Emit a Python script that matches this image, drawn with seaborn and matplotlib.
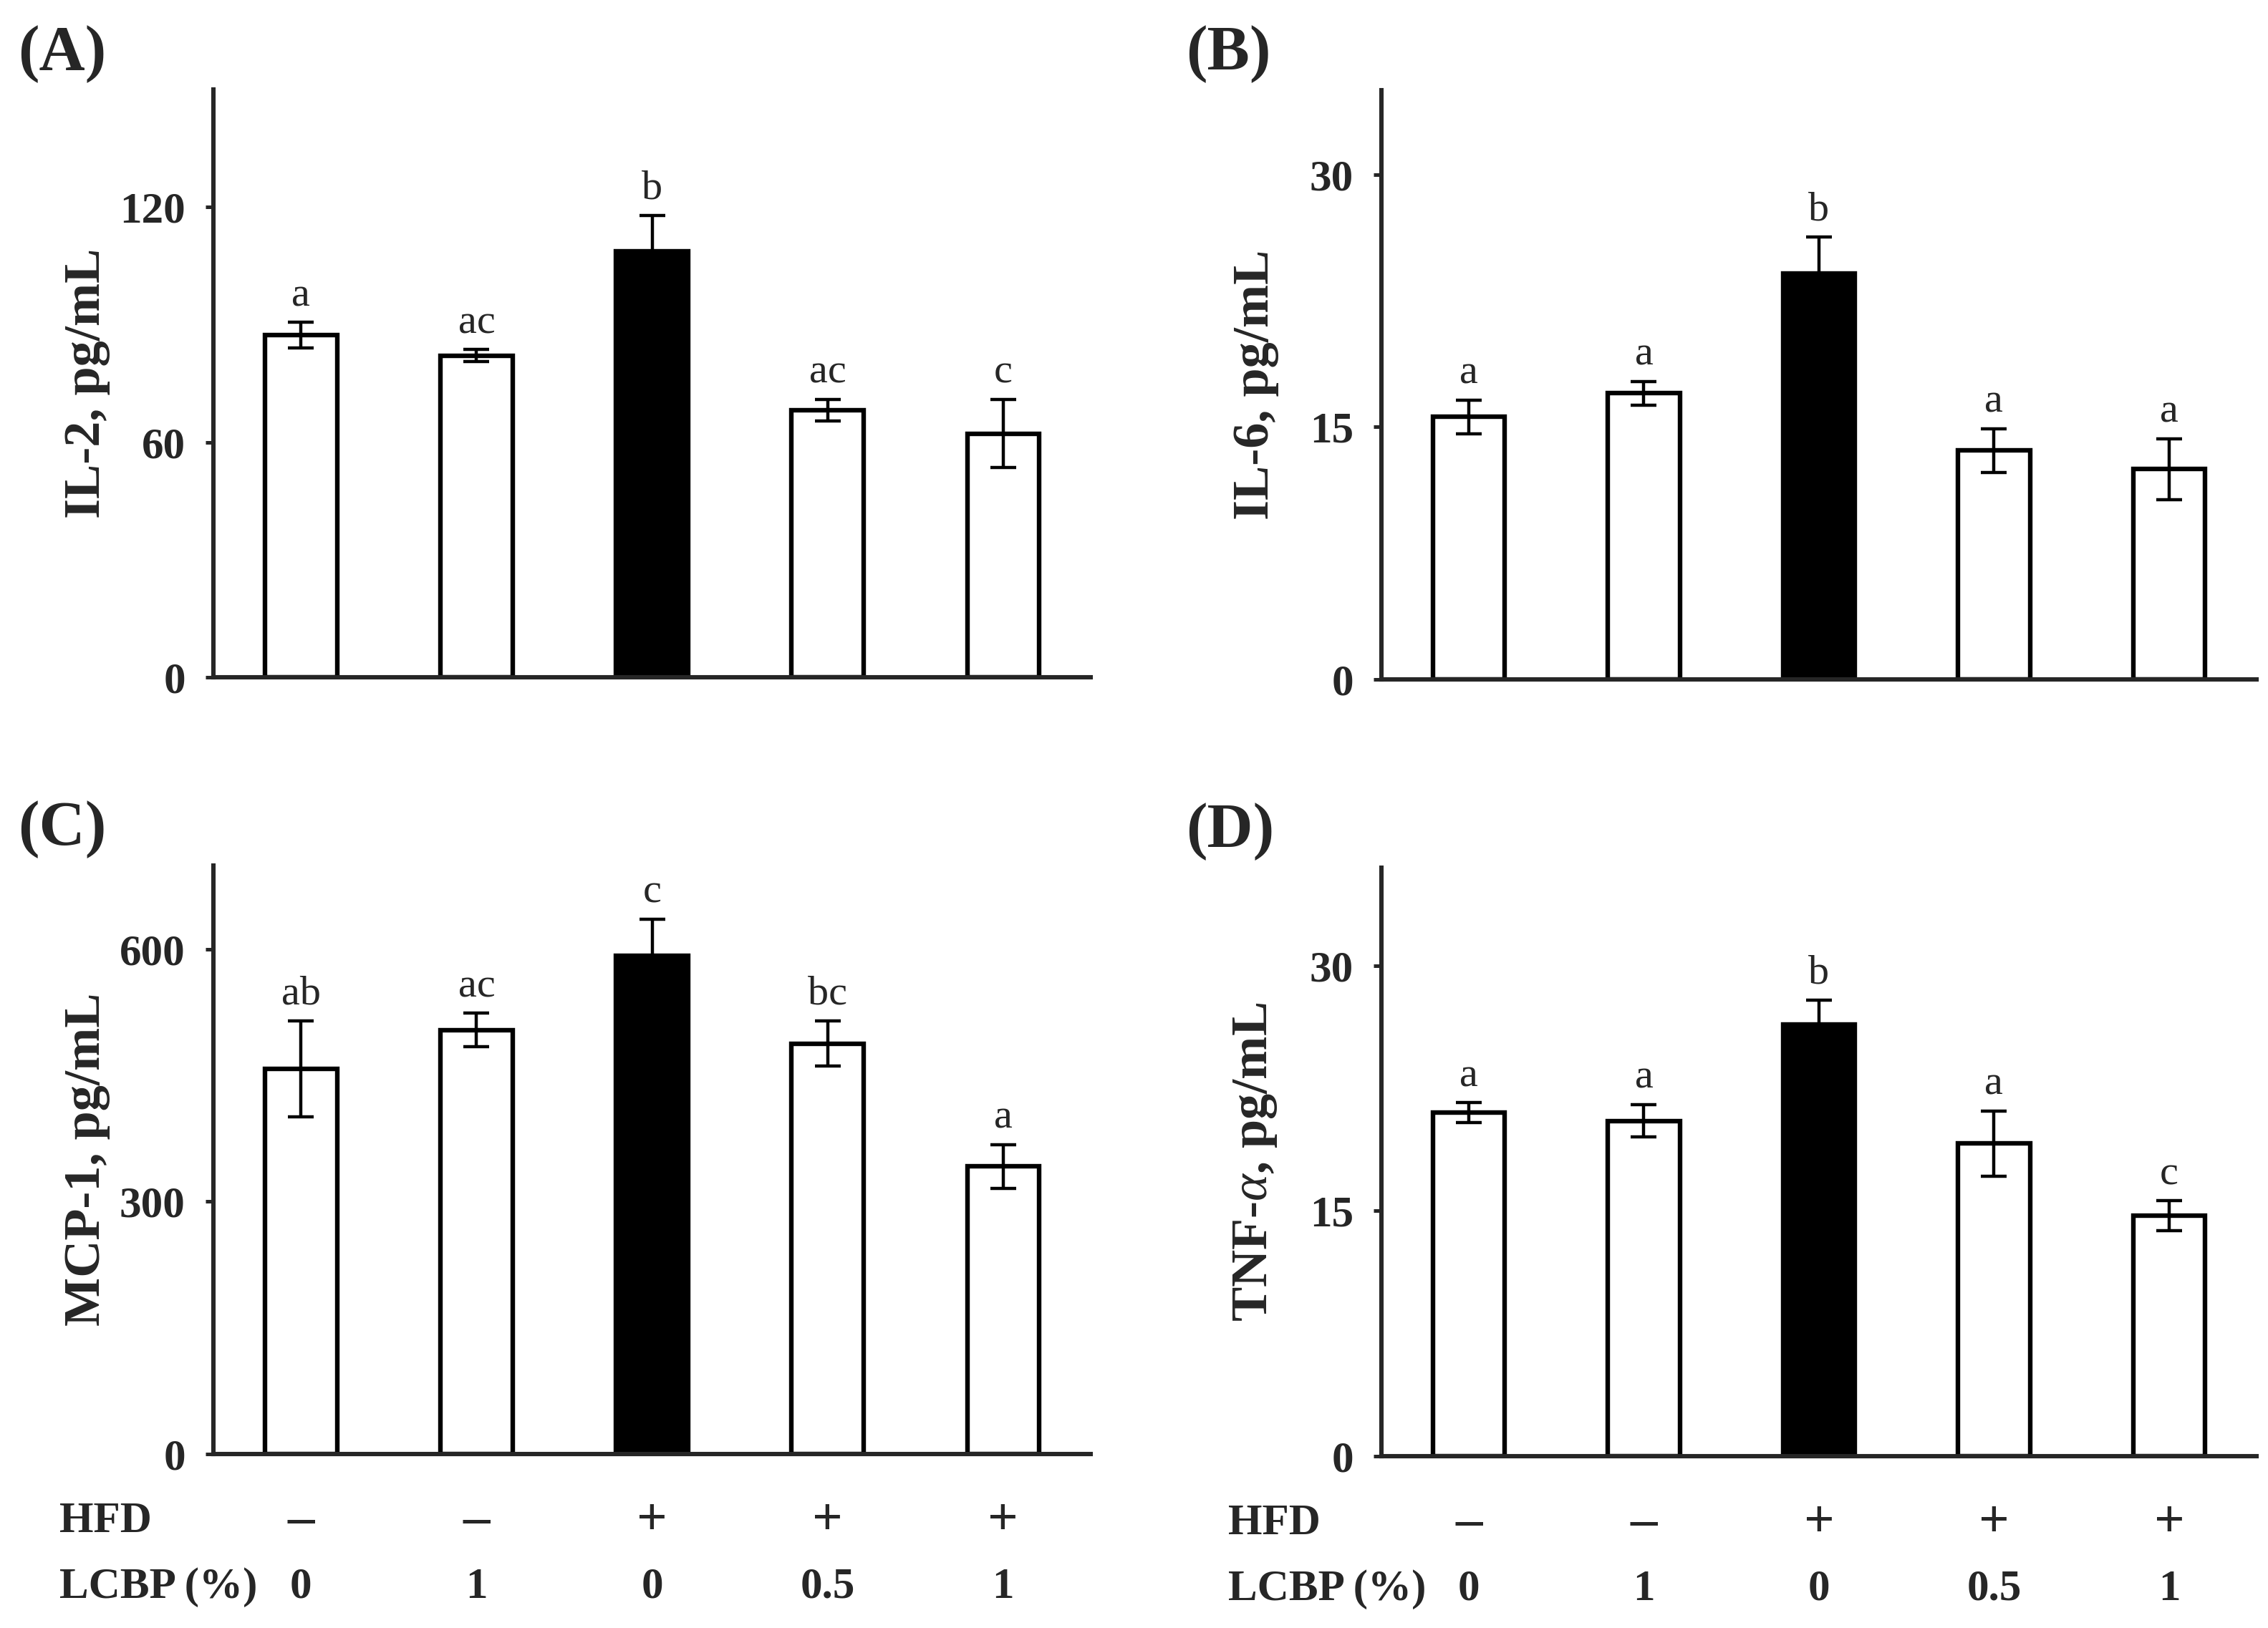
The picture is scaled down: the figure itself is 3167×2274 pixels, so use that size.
import numpy as np
import matplotlib
matplotlib.use("Agg")
import matplotlib.pyplot as plt
import seaborn as sns

sns.set_style("ticks")
plt.rcParams["font.family"] = ["Liberation Serif", "DejaVu Serif"]
plt.rcParams["mathtext.fontset"] = "custom"
plt.rcParams["mathtext.it"] = "Liberation Serif:italic"
plt.rcParams["mathtext.rm"] = "Liberation Serif:bold"

# groups (HFD / LCBP %)
groups = ["g1", "g2", "g3", "g4", "g5"]
hfd = ["–", "–", "+", "+", "+"]
lcbp = ["0", "1", "0", "0.5", "1"]
bar_colors = ["white", "white", "black", "white", "white"]

# values
il2_mean = [87.3, 82.1, 108.7, 68.2, 62.2]
il2_sd = [3.3, 1.5, 9.2, 2.7, 8.7]
il2_letters = ["a", "ac", "b", "ac", "c"]

il6_mean = [15.6, 17.0, 24.1, 13.6, 12.5]
il6_sd = [1.0, 0.7, 2.2, 1.3, 1.8]
il6_letters = ["a", "a", "b", "a", "a"]

mcp1_mean = [458, 504, 592, 488, 342]
mcp1_sd = [57, 20, 44, 27, 26]
mcp1_letters = ["ab", "ac", "c", "bc", "a"]

tnf_mean = [21.0, 20.5, 26.4, 19.1, 14.7]
tnf_sd = [0.6, 1.0, 1.5, 2.0, 0.9]
tnf_letters = ["a", "a", "b", "a", "c"]

fig = plt.figure(figsize=(15.835, 11.37), dpi=200)

panels = [
    ("(A)", [0.094, 0.584, 0.387, 0.361], il2_mean, il2_sd, il2_letters,
     "IL-2, pg/mL", (0, 150), [0, 60, 120], False),
    ("(B)", [0.609, 0.5826, 0.386, 0.362], il6_mean, il6_sd, il6_letters,
     "IL-6, pg/mL", (0, 35), [0, 15, 30], False),
    ("(C)", [0.094, 0.107, 0.387, 0.3615], mcp1_mean, mcp1_sd, mcp1_letters,
     "MCP-1, pg/mL", (0, 700), [0, 300, 600], True),
    ("(D)", [0.609, 0.1057, 0.386, 0.3615], tnf_mean, tnf_sd, tnf_letters,
     r"TNF-$\mathit{\alpha}$, pg/mL", (0, 36), [0, 15, 30], True),
]

for tag, pos, mean, sd, letters, ylab, ylim, yticks, rows in panels:
    ax = fig.add_axes(pos)
    sns.barplot(x=groups, y=mean, hue=groups, palette=bar_colors, legend=False,
                edgecolor="black", linewidth=2.3, width=0.41, errorbar=None,
                saturation=1, ax=ax)
    x = np.arange(len(groups))
    ax.errorbar(x, mean, yerr=sd, fmt="none", ecolor="black",
                elinewidth=1.6, capsize=6.5, capthick=1.6, zorder=5)
    for xi, m, s, lt in zip(x, mean, sd, letters):
        ax.annotate(lt, (xi, m + s), xytext=(0, 4), textcoords="offset points",
                    ha="center", va="bottom", fontsize=21)

    ax.set_xlim(-0.5, 4.5)
    ax.set_ylim(*ylim)
    ax.set_yticks(yticks)
    ax.set_xticks([])
    ax.set_xlabel("")
    ax.set_ylabel(ylab, fontsize=26, fontweight="bold")
    ax.yaxis.set_label_coords(-0.117, 0.5)
    ax.tick_params(axis="y", direction="out", length=4, width=1.8, pad=10,
                   labelsize=22)
    for lab in ax.get_yticklabels():
        lab.set_fontweight("bold")
    sns.despine(ax=ax)
    ax.spines["left"].set_linewidth(2.2)
    ax.spines["bottom"].set_linewidth(2.2)

    if rows:
        ax.annotate("HFD", (-0.175, 0), xycoords="axes fraction",
                    xytext=(0, -34), textcoords="offset points",
                    ha="left", va="center", fontsize=22, fontweight="bold")
        ax.annotate("LCBP (%)", (-0.175, 0), xycoords="axes fraction",
                    xytext=(0, -67), textcoords="offset points",
                    ha="left", va="center", fontsize=22, fontweight="bold")
        for xi, h, l in zip(x, hfd, lcbp):
            ax.annotate(h, (xi, 0), xycoords=("data", "axes fraction"),
                        xytext=(0, -34), textcoords="offset points",
                        ha="center", va="center", fontsize=27, fontweight="bold")
            ax.annotate(l, (xi, 0), xycoords=("data", "axes fraction"),
                        xytext=(0, -67), textcoords="offset points",
                        ha="center", va="center", fontsize=22, fontweight="bold")

    fig.text(pos[0] - 0.086, pos[1] + pos[3] + 0.022, tag, fontsize=32,
             fontweight="bold", ha="left", va="center")

fig.savefig("out.png", dpi=200)
